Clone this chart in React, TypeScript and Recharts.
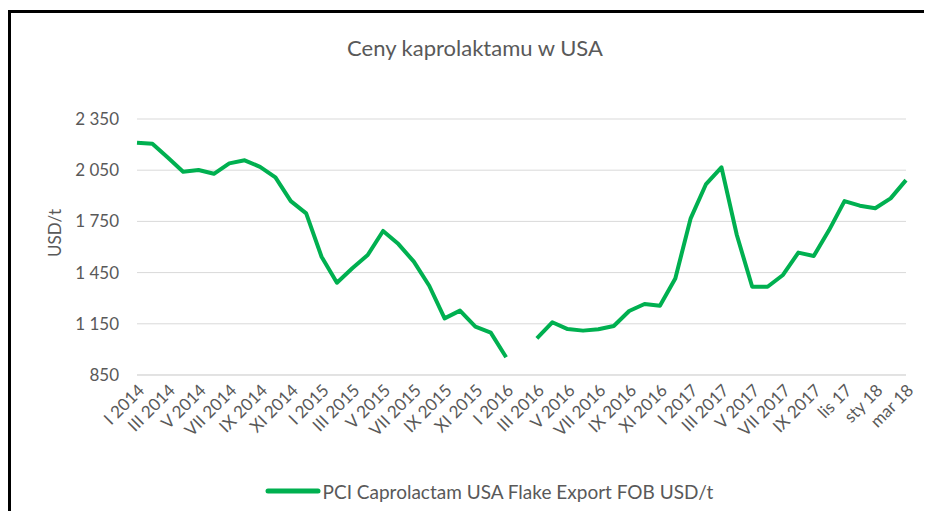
import React from 'react';
import { LineChart, Line, XAxis, YAxis, CartesianGrid, Legend, Label } from 'recharts';

const months = [
  'I 2014', 'II 2014', 'III 2014', 'IV 2014', 'V 2014', 'VI 2014', 'VII 2014', 'VIII 2014', 'IX 2014', 'X 2014', 'XI 2014', 'XII 2014',
  'I 2015', 'II 2015', 'III 2015', 'IV 2015', 'V 2015', 'VI 2015', 'VII 2015', 'VIII 2015', 'IX 2015', 'X 2015', 'XI 2015', 'XII 2015',
  'I 2016', 'II 2016', 'III 2016', 'IV 2016', 'V 2016', 'VI 2016', 'VII 2016', 'VIII 2016', 'IX 2016', 'X 2016', 'XI 2016', 'XII 2016',
  'I 2017', 'II 2017', 'III 2017', 'IV 2017', 'V 2017', 'VI 2017', 'VII 2017', 'VIII 2017', 'IX 2017', 'X 2017', 'lis 17', 'gru 17',
  'sty 18', 'lut 18', 'mar 18',
];

const prices: (number | null)[] = [
  2211, 2205, 2124, 2041, 2051, 2029, 2090, 2108, 2070, 2008, 1869, 1797,
  1543, 1391, 1475, 1553, 1694, 1617, 1514, 1373, 1182, 1227, 1133, 1098,
  954, null, 1065, 1159, 1119, 1110, 1118, 1137, 1225, 1266, 1256, 1416,
  1768, 1969, 2067, 1670, 1367, 1367, 1436, 1567, 1547, 1699, 1869, 1842,
  1827, 1885, 1992,
];

const yTicks = [850, 1150, 1450, 1750, 2050, 2350];

const seriesName = 'PCI Caprolactam USA Flake Export FOB USD/t';
const title = 'Ceny kaprolaktamu w USA';

const data = months.map((m, i) => ({ month: m, price: prices[i] }));

const FONT = 'Lato, "Open Sans", sans-serif';
const TEXT = '#595959';
const GREEN = '#00B050';

const fmt = (v: number) => {
  const s = String(v);
  return s.length > 3 ? s.slice(0, -3) + ' ' + s.slice(-3) : s;
};

const XTick = (props: any) => {
  const { x, y, payload } = props;
  return (
    <g transform={`translate(${x},${y})`}>
      <text
        x={0}
        y={0}
        dy="0.7em"
        textAnchor="end"
        transform="rotate(-45)"
        fill={TEXT}
        fontSize={17}
        fontFamily={FONT}
      >
        {payload.value}
      </text>
    </g>
  );
};

const LegendBox = () => (
  <div
    style={{
      display: 'flex',
      justifyContent: 'center',
      alignItems: 'center',
      height: 24,
      paddingLeft: 35,
      fontFamily: FONT,
      fontSize: 19,
      color: TEXT,
    }}
  >
    <svg width={56} height={8} style={{ marginRight: 2 }}>
      <line x1={3} y1={4} x2={53} y2={4} stroke={GREEN} strokeWidth={5} strokeLinecap="round" />
    </svg>
    <span>{seriesName}</span>
  </div>
);

const App: React.FC = () => {
  return (
    <div style={{ paddingTop: 2, width: 924, height: 501, overflow: 'hidden' }}>
      <div
        style={{
          position: 'relative',
          width: 921,
          height: 498,
          borderTop: '3px solid #000',
          borderLeft: '3px solid #000',
          background: '#fff',
        }}
      >
        <div
          style={{
            position: 'absolute',
            top: 24,
            left: 14,
            width: 900,
            textAlign: 'center',
            fontFamily: FONT,
            fontSize: 22,
            lineHeight: '22px',
            color: TEXT,
            zIndex: 1,
          }}
        >
          {title}
        </div>
        <LineChart width={921} height={498} data={data} margin={{ top: 106, right: 26, left: 0, bottom: 8 }}>
          <CartesianGrid vertical={false} stroke="#d9d9d9" />
          <XAxis
            dataKey="month"
            interval={1}
            tickLine={false}
            axisLine={{ stroke: '#d9d9d9' }}
            height={104}
            tick={<XTick />}
          />
          <YAxis
            width={126}
            domain={[850, 2350]}
            ticks={yTicks}
            tickFormatter={fmt}
            tickLine={false}
            axisLine={false}
            tickMargin={12}
            tick={{ fill: TEXT, fontSize: 17, fontFamily: FONT }}
          >
            <Label
              content={() => (
                <text
                  x={43}
                  y={220}
                  transform="rotate(-90 43 220)"
                  textAnchor="middle"
                  dominantBaseline="central"
                  fill={TEXT}
                  fontSize={17}
                  fontFamily={FONT}
                >
                  USD/t
                </text>
              )}
            />
          </YAxis>
          <Legend verticalAlign="bottom" wrapperStyle={{ left: 0, width: 921 }} content={<LegendBox />} />
          <Line
            type="linear"
            dataKey="price"
            name={seriesName}
            stroke={GREEN}
            strokeWidth={4}
            strokeLinejoin="round"
            dot={false}
            isAnimationActive={false}
          />
        </LineChart>
      </div>
    </div>
  );
};

export default App;
